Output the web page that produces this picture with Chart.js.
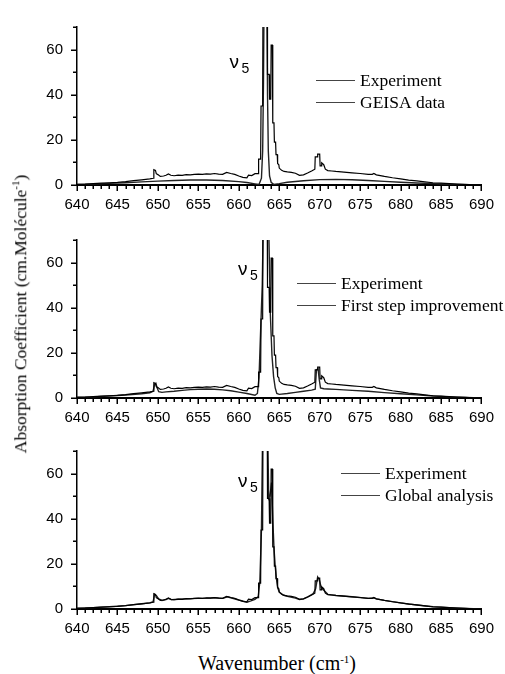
<!DOCTYPE html>
<html>
<head>
<meta charset="utf-8">
<script src="https://cdn.jsdelivr.net/npm/chart.js@4.4.0/dist/chart.umd.min.js"></script>
<style>
  body { margin: 0; background: #fff; }
  #wrap { position: relative; width: 505px; height: 674px; overflow: hidden; }
  canvas { position: absolute; left: 0; }
  .titulo { position: absolute; font-family: "Liberation Serif", "Times New Roman", serif; line-height: 1; white-space: nowrap; color: #000; }
  .titulo span { font-size: 11px; vertical-align: 7px; line-height: 0; }
  #ytitle { font-size: 17.5px; left: 21px; top: 314px; transform: translate(-50%, -50%) rotate(-90deg); }
  #xtitle { font-size: 20px; left: 277px; top: 663px; transform: translate(-50%, -50%); }
</style>
</head>
<body>
<div id="wrap">
  <canvas id="panel1" width="505" height="215" style="top:4px"></canvas>
  <canvas id="panel2" width="505" height="215" style="top:217px"></canvas>
  <canvas id="panel3" width="505" height="215" style="top:428px"></canvas>
  <div class="titulo" id="ytitle">Absorption Coefficient (cm.Molécule<span>-1</span>)</div>
  <div class="titulo" id="xtitle">Wavenumber (cm<span>-1</span>)</div>
</div>
<script>
// Espectro experimental (igual en los tres paneles)
const expX = [640, 641, 642, 643, 644, 645, 646, 647, 648, 649, 649.45, 649.5, 649.7, 649.8, 650, 650.3, 650.7, 651, 651.3, 651.6,
  652, 652.5, 653, 653.5, 654, 654.5, 655, 655.5, 656, 656.5, 657, 657.5, 658, 658.5, 659, 659.5, 660, 660.5, 661, 661.2, 661.6,
  662, 662.4, 662.45, 662.7, 662.75, 662.95, 663.0, 663.5, 663.55, 663.75, 663.8, 663.95, 664.0, 664.15, 664.2, 664.35, 664.4,
  664.55, 664.6, 664.75, 664.8, 664.95, 665.0, 665.3, 665.6, 666, 666.5, 667, 667.5, 668, 668.5, 669, 669.4, 669.45, 669.7,
  669.75, 670.0, 670.05, 670.2, 670.25, 670.5, 670.7, 671, 671.5, 672, 673, 674, 675, 676, 676.5, 676.7, 677, 678, 679, 680,
  681, 682, 683, 684, 685, 686, 687, 688, 689, 690];
const expY = [0.3, 0.4, 0.6, 0.8, 1.0, 1.2, 1.5, 1.9, 2.3, 2.7, 3.0, 6.8, 6.5, 5.0, 4.6, 3.8, 4.0, 4.3, 4.9, 4.3,
  4.1, 4.4, 4.3, 4.6, 4.5, 4.7, 4.8, 4.7, 4.9, 4.8, 5.1, 4.8, 4.7, 5.6, 5.1, 4.7, 4.0, 3.4, 3.2, 4.4, 4.2,
  5.0, 5.0, 11.5, 11.5, 35, 35, 95, 95, 49, 49, 38, 38, 62, 62, 27.5, 27.5, 19,
  19, 13.5, 13.5, 9.5, 9, 7.5, 6.5, 6.0, 5.8, 5.6, 5.2, 4.3, 4.5, 5.3, 6.2, 7.0, 12.5, 12.5,
  13.7, 13.7, 8.5, 8.5, 9.8, 9.0, 7.0, 6.4, 6.2, 6.0, 5.7, 5.4, 5.1, 4.7, 4.7, 5.1, 4.5, 3.8, 3.2, 2.7,
  2.2, 1.8, 1.4, 1.0, 0.8, 0.6, 0.4, 0.25, 0.1, 0.05];

// Datos GEISA
const geisaX = [640, 642, 644, 646, 648, 650, 652, 654, 656, 658, 660, 661, 662, 662.5, 662.8, 662.95, 663.05, 663.15,
  663.45, 663.55, 663.65, 663.8, 664.0, 664.3, 665, 666, 668, 670, 672, 674, 676, 678, 680, 682, 684, 686, 688, 690];
const geisaY = [0.2, 0.4, 0.7, 1.0, 1.4, 1.7, 2.0, 2.2, 2.2, 2.0, 1.5, 1.1, 0.5, 0.2, 3, 15, 45, 95,
  95, 40, 15, 4, 1.2, 0.3, 0.6, 1.2, 1.9, 2.4, 2.5, 2.3, 2.0, 1.6, 1.2, 0.9, 0.6, 0.35, 0.15, 0.05];

// Primera mejora
const firstX = [640, 642, 644, 646, 648, 649, 649.4, 649.6, 649.75, 649.9, 650.1, 650.5, 651, 652, 653, 654, 655, 656, 657,
  658, 659, 660, 661, 662, 662.3, 662.5, 662.7, 662.9, 663.1, 663.6, 663.9, 664.1, 664.3, 664.5, 664.7, 665, 666, 667, 668,
  669, 669.45, 669.6, 669.8, 669.95, 670.1, 670.5, 671, 672, 674, 676, 678, 680, 682, 684, 686, 688, 690];
const firstY = [0.3, 0.5, 0.9, 1.3, 1.9, 2.3, 3.0, 6.0, 6.5, 4.5, 2.8, 2.5, 2.7, 3.0, 3.4, 3.7, 3.9, 4.0, 3.9,
  3.6, 3.2, 2.6, 2.0, 1.2, 2, 9, 30, 50, 95, 95, 37, 19, 9.5, 4.5, 2.0, 1.6, 2.0, 2.5, 3.0,
  3.5, 3.9, 12.5, 13.0, 8, 4.5, 4.1, 4.0, 3.8, 3.4, 3.0, 2.4, 1.9, 1.4, 0.9, 0.5, 0.2, 0.05];

// Análisis global
const globalX = [640, 642, 644, 646, 648, 649, 649.4, 649.6, 649.8, 650.1, 650.5, 651, 651.3, 651.7, 652.5, 654, 656, 657,
  658, 658.6, 659, 660, 661, 661.5, 662, 662.4, 662.6, 662.8, 663.0, 663.5, 663.7, 663.85, 664.05, 664.2, 664.35, 664.5,
  664.65, 664.8, 665, 665.5, 666, 667, 667.5, 668, 668.6, 669.2, 669.5, 669.75, 669.95, 670.2, 670.6, 671, 672, 674, 676,
  676.7, 677, 678, 680, 682, 684, 686, 688, 690];
const globalY = [0.3, 0.6, 1.0, 1.5, 2.3, 2.7, 3.2, 6.5, 6.0, 4.5, 3.8, 4.2, 4.7, 4.1, 4.3, 4.6, 4.8, 5.0,
  4.7, 5.4, 5.0, 4.0, 3.0, 3.6, 4.3, 5.5, 12, 35, 95, 95, 49, 50, 56, 40, 27, 19,
  13.5, 9.5, 7.5, 6.2, 5.6, 4.8, 4.2, 4.5, 5.5, 6.8, 9, 14.2, 13, 9.5, 8.0, 6.5, 6.0, 5.4, 4.7,
  4.9, 4.5, 3.8, 2.7, 1.8, 1.0, 0.6, 0.25, 0.05];

const xTicks = { min: 640, max: 690, major: 5, minor: 1 };
const yTicks = { min: 0, max: 70, major: 20, minor: 10 };

// marcas mayores y menores hacia afuera
const marcasEjes = {
  id: 'marcasEjes',
  afterDraw(chart) {
    const { ctx, chartArea, scales: { x, y } } = chart;
    ctx.save();
    ctx.strokeStyle = '#000';
    ctx.lineWidth = 1.5;
    ctx.beginPath();
    for (let v = xTicks.min; v <= xTicks.max; v += xTicks.minor) {
      const px = Math.round(x.getPixelForValue(v)) + 0.25;
      const largo = v % xTicks.major === 0 ? 6 : 4;
      ctx.moveTo(px, chartArea.bottom);
      ctx.lineTo(px, chartArea.bottom + largo);
    }
    for (let v = yTicks.min; v <= yTicks.max; v += yTicks.minor) {
      const py = Math.round(y.getPixelForValue(v)) + 0.25;
      const largo = v % yTicks.major === 0 ? 6 : 4;
      ctx.moveTo(chartArea.left, py);
      ctx.lineTo(chartArea.left - largo, py);
    }
    ctx.stroke();
    ctx.restore();
  }
};

const leyenda = {
  id: 'leyenda',
  afterDraw(chart, args, opts) {
    const { ctx, chartArea } = chart;
    ctx.save();
    ctx.font = '17.5px "Liberation Serif"';
    ctx.textBaseline = 'middle';
    chart.data.datasets.forEach((ds, i) => {
      const y0 = Math.round(chartArea.top + opts.top + i * 21.5) + 0.5;
      const x0 = chartArea.left + opts.left;
      ctx.strokeStyle = '#444';
      ctx.lineWidth = 1;
      ctx.beginPath();
      ctx.moveTo(x0, y0);
      ctx.lineTo(x0 + 39, y0);
      ctx.stroke();
      ctx.fillStyle = '#000';
      ctx.fillText(ds.label, x0 + 44, y0 + 0.5);
    });
    ctx.restore();
  }
};

const etiquetaNu = {
  id: 'etiquetaNu',
  afterDraw(chart, args, opts) {
    const { ctx, scales: { x, y } } = chart;
    const px = x.getPixelForValue(opts.x);
    const py = y.getPixelForValue(opts.y);
    ctx.save();
    ctx.fillStyle = '#000';
    ctx.textAlign = 'left';
    ctx.textBaseline = 'alphabetic';
    ctx.font = '19px "Liberation Sans"';
    ctx.fillText('ν', px, py);
    ctx.font = '14px "Liberation Sans"';
    ctx.fillText('5', px + 12, py + 5);
    ctx.restore();
  }
};

function puntos(xs, ys) {
  return xs.map((x, i) => ({ x: x, y: ys[i] }));
}

function crearPanel(id, modelX, modelY, modelLabel, posLeyenda, posNu) {
  const fuenteTicks = { family: '"Liberation Sans", Arial, sans-serif', size: 15 };
  return new Chart(document.getElementById(id), {
    type: 'line',
    data: {
      datasets: [
        { label: 'Experiment', data: puntos(expX, expY), borderColor: '#000', borderWidth: 1.2, pointRadius: 0, tension: 0 },
        { label: modelLabel, data: puntos(modelX, modelY), borderColor: '#222', borderWidth: 1.4, pointRadius: 0, tension: 0 }
      ]
    },
    options: {
      responsive: false,
      animation: false,
      layout: { padding: { top: 10, right: 14, left: 0, bottom: 0 } },
      plugins: {
        legend: { display: false },
        tooltip: { enabled: false },
        leyenda: posLeyenda,
        etiquetaNu: posNu
      },
      scales: {
        x: {
          type: 'linear',
          min: xTicks.min,
          max: xTicks.max,
          ticks: { stepSize: xTicks.major, padding: 11, color: '#000', font: fuenteTicks, maxRotation: 0 },
          grid: { display: false, drawTicks: false },
          border: { display: true, color: '#000', width: 2 },
          afterFit: s => { s.height = 34; }
        },
        y: {
          min: yTicks.min,
          max: yTicks.max,
          ticks: { stepSize: yTicks.major, includeBounds: false, padding: 14, color: '#000', font: fuenteTicks },
          grid: { display: false, drawTicks: false },
          border: { display: true, color: '#000', width: 1.5 },
          afterFit: s => { s.width = 77; }
        }
      }
    },
    plugins: [marcasEjes, leyenda, etiquetaNu]
  });
}

crearPanel('panel1', geisaX, geisaY, 'GEISA data', { left: 239, top: 53 }, { x: 658.85, y: 52 });
crearPanel('panel2', firstX, firstY, 'First step improvement', { left: 220, top: 43 }, { x: 659.9, y: 54.4 });
crearPanel('panel3', globalX, globalY, 'Global analysis', { left: 264, top: 22 }, { x: 659.9, y: 54 });
</script>
</body>
</html>
